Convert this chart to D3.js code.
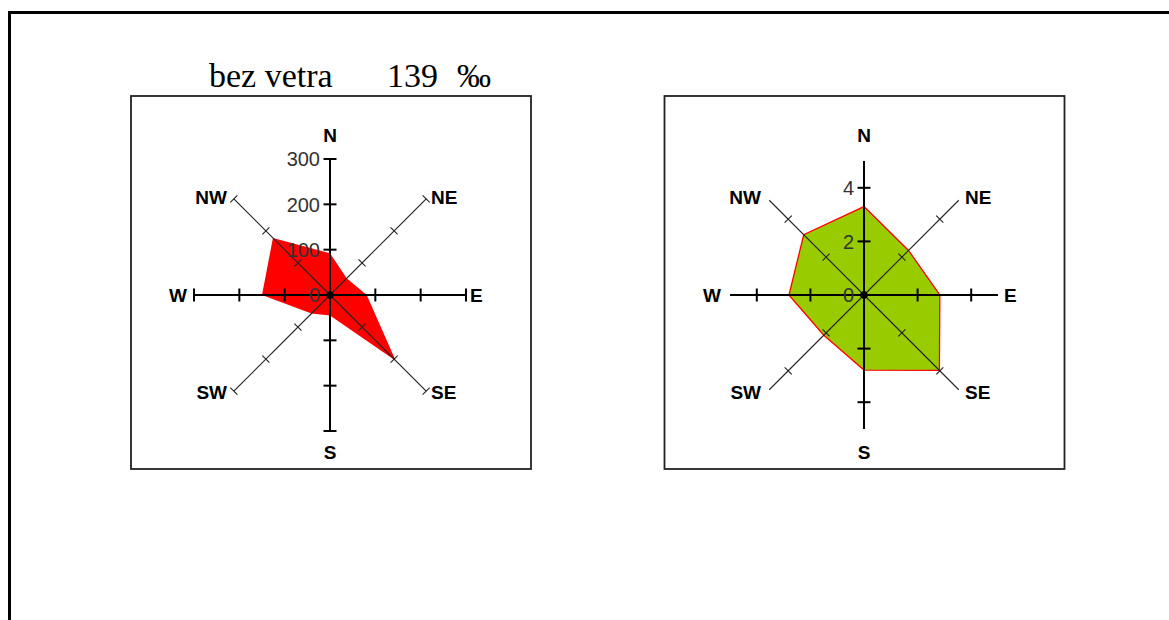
<!DOCTYPE html>
<html>
<head>
<meta charset="utf-8">
<script src="https://cdn.jsdelivr.net/npm/d3@7"></script>
<style>
  html, body { margin: 0; padding: 0; background: #fff; }
  svg { display: block; }
</style>
</head>
<body>
<svg id="chart" width="1169" height="620"></svg>
<script>
// ---- data ----
const directions = ["N", "NE", "E", "SE", "S", "SW", "W", "NW"];
const frequency = [92, 52, 81, 205, 45, 58, 150, 178];       // ‰ per direction
const speed = [3.3, 2.35, 2.83, 3.98, 2.8, 2.12, 2.8, 3.18];  // mean speed per direction
const freqTicks = [100, 200, 300];
const freqTickLabels = ["0", "100", "200", "300"];
const speedTicks = [2, 4];
const speedTickLabels = ["0", "2", "4"];
const calmLabel = "bez vetra";
const calmValue = "139";
const calmUnit = "‰";

const svg = d3.select("#chart");

// outer page border
svg.append("rect")
  .attr("x", 9.5).attr("y", 12.5)
  .attr("width", 1200).attr("height", 700)
  .attr("fill", "none").attr("stroke", "#000").attr("stroke-width", 3);

// title
const titleG = svg.append("g")
  .style("font-family", "'Liberation Serif', 'Times New Roman', serif")
  .style("font-size", "34px").attr("fill", "#000");
titleG.append("text").attr("x", 209).attr("y", 87).text(calmLabel);
titleG.append("text").attr("x", 387).attr("y", 87).text(calmValue);
titleG.append("text").attr("x", 457).attr("y", 87).text(calmUnit);

function rose(opts) {
  const { cx, cy, frame, values, domainMax, radius, ticks, tickLabels, labelTicks,
          endTick, fill, stroke } = opts;
  const g = svg.append("g");
  g.append("rect")
    .attr("x", frame[0] + 0.5).attr("y", frame[1] + 0.5)
    .attr("width", frame[2]).attr("height", frame[3])
    .attr("fill", "#fff").attr("stroke", "#222").attr("stroke-width", 1.8);

  const r = d3.scaleLinear().domain([0, domainMax]).range([0, radius]);
  const angle = d3.scalePoint().domain(directions).range([0, 2 * Math.PI * 7 / 8]);

  const c = g.append("g").attr("transform", `translate(${cx},${cy})`);

  // data polygon
  const line = d3.lineRadial()
    .angle((d, i) => angle(directions[i]))
    .radius(d => r(d))
    .curve(d3.curveLinearClosed);
  c.append("path")
    .attr("d", line(values))
    .attr("fill", fill)
    .attr("stroke", stroke || "none")
    .attr("stroke-width", stroke ? 1.3 : 0);

  // axes
  const tickVals = endTick ? ticks.concat([domainMax]).filter((v, i, a) => a.indexOf(v) === i) : ticks;
  directions.forEach(dir => {
    const a = angle(dir);
    const ux = Math.sin(a), uy = -Math.cos(a);
    const px = -uy, py = ux;
    const cardinal = ["N", "E", "S", "W"].includes(dir);
    const sw = cardinal ? 2 : 1.1;
    const col = cardinal ? "#000" : "#222";
    c.append("line")
      .attr("x1", 0).attr("y1", 0)
      .attr("x2", ux * r(domainMax)).attr("y2", uy * r(domainMax))
      .attr("stroke", col).attr("stroke-width", sw);
    const tl = cardinal ? 6.5 : 5;
    tickVals.forEach(t => {
      const x = ux * r(t), y = uy * r(t);
      c.append("line")
        .attr("x1", x - px * tl).attr("y1", y - py * tl)
        .attr("x2", x + px * tl).attr("y2", y + py * tl)
        .attr("stroke", col).attr("stroke-width", sw);
    });
  });

  // tick labels on N axis
  const tl = c.append("g")
    .style("font-family", "'Liberation Sans', Arial, sans-serif")
    .style("font-size", "20px").attr("fill", "#333")
    .attr("text-anchor", "end");
  labelTicks.forEach((t, i) => {
    tl.append("text")
      .attr("x", -10).attr("y", -r(t)).attr("dy", "0.36em")
      .text(tickLabels[i]);
  });

  // center dot
  c.append("circle").attr("r", 3.8).attr("fill", "#000");

  // direction labels
  const lab = c.append("g")
    .style("font-family", "'Liberation Sans', Arial, sans-serif")
    .style("font-size", "19px").style("font-weight", "bold").attr("fill", "#000");
  const place = {
    N:  { x: 0, y: -160, anchor: "middle" },
    S:  { x: 0, y: 157, anchor: "middle" },
    E:  { x: 140, y: 0, anchor: "start" },
    W:  { x: -143, y: 0, anchor: "end" },
    NE: { x: 101, y: -98, anchor: "start" },
    NW: { x: -103, y: -98, anchor: "end" },
    SE: { x: 101, y: 97, anchor: "start" },
    SW: { x: -103, y: 97, anchor: "end" }
  };
  directions.forEach(dir => {
    const p = place[dir];
    lab.append("text")
      .attr("x", p.x).attr("y", p.y).attr("dy", "0.36em")
      .attr("text-anchor", p.anchor)
      .text(dir);
  });
}

rose({
  cx: 330, cy: 295, frame: [130.5, 95.5, 400, 373],
  values: frequency, domainMax: 300, radius: 136,
  ticks: freqTicks, tickLabels: freqTickLabels, labelTicks: [0].concat(freqTicks),
  endTick: true, fill: "#ff0000", stroke: null
});

rose({
  cx: 864, cy: 295, frame: [664, 95.5, 400, 373],
  values: speed, domainMax: 5, radius: 134,
  ticks: speedTicks, tickLabels: speedTickLabels, labelTicks: [0].concat(speedTicks),
  endTick: false, fill: "#99cc00", stroke: "#ff0000"
});
</script>
</body>
</html>
